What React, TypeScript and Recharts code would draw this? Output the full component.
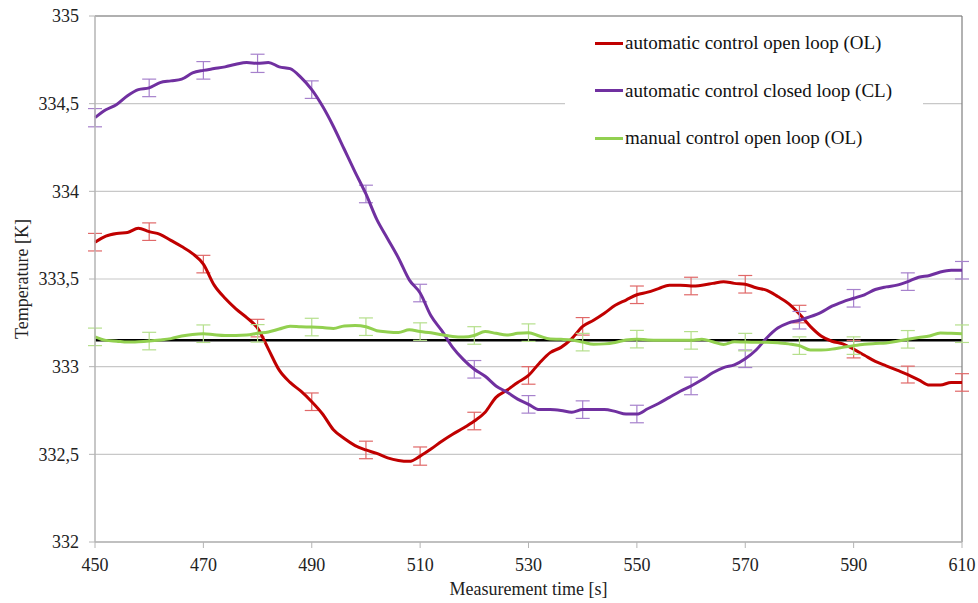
import React from 'react';
import { LineChart, Line, XAxis, YAxis, CartesianGrid, ReferenceLine, ErrorBar, Legend } from 'recharts';

const FONT = '"Liberation Serif", "Times New Roman", serif';

// Measurement time [s], one sample every 2 s
const times = [
  450, 452, 454, 456, 458, 460, 462, 464, 466, 468,
  470, 472, 474, 476, 478, 480, 482, 484, 486, 488,
  490, 492, 494, 496, 498, 500, 502, 504, 506, 508,
  510, 512, 514, 516, 518, 520, 522, 524, 526, 528,
  530, 532, 534, 536, 538, 540, 542, 544, 546, 548,
  550, 552, 554, 556, 558, 560, 562, 564, 566, 568,
  570, 572, 574, 576, 578, 580, 582, 584, 586, 588,
  590, 592, 594, 596, 598, 600, 602, 604, 606, 608,
  610,
];

// automatic control open loop (OL), temperature [K]
const autoOpen = [
  333.71, 333.745, 333.76, 333.765, 333.79, 333.77, 333.755, 333.72, 333.685, 333.645,
  333.585, 333.465, 333.39, 333.33, 333.28, 333.22, 333.1, 332.98, 332.91, 332.86,
  332.8, 332.73, 332.64, 332.59, 332.55, 332.525, 332.505, 332.48, 332.465, 332.46,
  332.49, 332.53, 332.575, 332.615, 332.65, 332.69, 332.74, 332.825, 332.865, 332.91,
  332.95, 333.02, 333.08, 333.11, 333.16, 333.23, 333.265, 333.305, 333.35, 333.38,
  333.41, 333.425, 333.445, 333.465, 333.465, 333.46, 333.465, 333.475, 333.485, 333.475,
  333.47, 333.45, 333.435, 333.4, 333.36, 333.3, 333.23, 333.175, 333.145, 333.13,
  333.1, 333.065, 333.03, 333.005, 332.98, 332.955, 332.925, 332.895, 332.895, 332.91,
  332.91,
];

// automatic control closed loop (CL), temperature [K]
const autoClosed = [
  334.42, 334.465, 334.495, 334.545, 334.58, 334.59, 334.62, 334.63, 334.64, 334.675,
  334.69, 334.7, 334.71, 334.725, 334.735, 334.73, 334.735, 334.71, 334.7, 334.65,
  334.58, 334.485, 334.37, 334.24, 334.11, 333.985, 333.84, 333.73, 333.62, 333.495,
  333.42, 333.29, 333.205, 333.11, 333.04, 332.985, 332.945, 332.89, 332.855, 332.815,
  332.785, 332.755, 332.755, 332.75, 332.74, 332.755, 332.755, 332.755, 332.745, 332.73,
  332.73, 332.76, 332.79, 332.825, 332.86, 332.89, 332.925, 332.965, 332.995, 333.01,
  333.045, 333.095, 333.165, 333.22, 333.25, 333.265, 333.285, 333.31, 333.345, 333.37,
  333.39, 333.41, 333.44, 333.455, 333.465, 333.485, 333.51, 333.52, 333.54, 333.55,
  333.55,
];

// manual control open loop (OL), temperature [K]
const manualOpen = [
  333.17, 333.15, 333.145, 333.14, 333.142, 333.146, 333.152, 333.16, 333.175, 333.184,
  333.188, 333.182, 333.178, 333.178, 333.18, 333.19, 333.198, 333.215, 333.23, 333.227,
  333.226, 333.223, 333.218, 333.232, 333.235, 333.228, 333.205, 333.198, 333.195, 333.21,
  333.2, 333.193, 333.182, 333.172, 333.169, 333.178, 333.2, 333.19, 333.18, 333.19,
  333.194, 333.175, 333.158, 333.156, 333.152, 333.14, 333.128, 333.13, 333.138, 333.152,
  333.157, 333.152, 333.15, 333.15, 333.15, 333.15, 333.157, 333.142, 333.127, 333.142,
  333.14, 333.139, 333.139, 333.137, 333.13, 333.12, 333.095, 333.095, 333.1, 333.11,
  333.12, 333.128, 333.132, 333.135, 333.145, 333.156, 333.166, 333.175, 333.192, 333.19,
  333.188,
];

// Standard deviation at every 10 s
const errTimes = [450, 460, 470, 480, 490, 500, 510, 520, 530, 540, 550, 560, 570, 580, 590, 600, 610];
const autoOpenErr = [0.05, 0.05, 0.05, 0.05, 0.05, 0.05, 0.052, 0.05, 0.05, 0.05, 0.05, 0.05, 0.05, 0.05, 0.05, 0.048, 0.05];
const autoClosedErr = [0.052, 0.05, 0.05, 0.052, 0.05, 0.05, 0.05, 0.05, 0.05, 0.05, 0.05, 0.05, 0.05, 0.05, 0.05, 0.05, 0.05];
const manualOpenErr = [0.05, 0.05, 0.05, 0.05, 0.05, 0.05, 0.05, 0.05, 0.05, 0.05, 0.05, 0.05, 0.05, 0.05, 0.05, 0.05, 0.05];

// Set-point temperature [K]
const setPoint = 333.15;

const xTicks = [450, 470, 490, 510, 530, 550, 570, 590, 610];
const yTicks = [332, 332.5, 333, 333.5, 334, 334.5, 335];

const seriesNames = [
  'automatic control open loop (OL)',
  'automatic control closed loop (CL)',
  'manual control open loop (OL)',
];
const seriesColors = ['#c00000', '#7030a0', '#92d050'];
const errColors = ['#e06868', '#a681cc', '#b5df8c'];

const rows = times.map((t, i) => {
  const k = errTimes.indexOf(t);
  return {
    t,
    autoOpen: autoOpen[i],
    autoClosed: autoClosed[i],
    manualOpen: manualOpen[i],
    autoOpenErr: k >= 0 ? autoOpenErr[k] : undefined,
    autoClosedErr: k >= 0 ? autoClosedErr[k] : undefined,
    manualOpenErr: k >= 0 ? manualOpenErr[k] : undefined,
  };
});

const tickStyle = { fontFamily: FONT, fontSize: 18, fill: '#222' };

const XTitle = (props: any) => {
  const vb = props.viewBox || {};
  return (
    <text x={vb.x + vb.width / 2} y={595} textAnchor="middle" style={tickStyle}>
      Measurement time [s]
    </text>
  );
};

const YTitle = (props: any) => {
  const vb = props.viewBox || {};
  const cy = vb.y + vb.height / 2;
  return (
    <text x={28} y={cy} textAnchor="middle" transform={`rotate(-90 28 ${cy})`} style={tickStyle}>
      Temperature [K]
    </text>
  );
};

const LegendBox = () => (
  <div style={{ fontFamily: FONT, fontSize: 19, color: '#111' }}>
    {seriesNames.map((name, i) => (
      <div key={name} style={{ height: 47.5, display: 'flex', alignItems: 'center', whiteSpace: 'nowrap' }}>
        <span style={{ display: 'inline-block', width: 28, height: 3, background: seriesColors[i], marginLeft: 30, marginRight: 2 }} />
        <span>{name}</span>
      </div>
    ))}
  </div>
);

export default function App() {
  return (
    <div style={{ position: 'absolute', left: 0, top: 0, width: 978, height: 603, background: '#fff' }}>
      <LineChart width={978} height={603} data={rows} margin={{ top: 16, right: 16, bottom: 21, left: 0 }}>
        <CartesianGrid vertical={false} stroke="#c8c8c8" strokeWidth={1.2} />
        <XAxis
          dataKey="t"
          type="number"
          domain={[450, 610]}
          ticks={xTicks}
          height={40}
          tick={tickStyle}
          tickMargin={10}
          tickLine={{ stroke: '#b4b4b4' }}
          axisLine={{ stroke: '#b4b4b4', strokeWidth: 1.5 }}
          label={<XTitle />}
        />
        <YAxis
          type="number"
          domain={[332, 335]}
          ticks={yTicks}
          width={95}
          tick={tickStyle}
          tickMargin={10}
          tickFormatter={(v: number) => String(v).replace('.', ',')}
          tickLine={{ stroke: '#b4b4b4' }}
          axisLine={{ stroke: '#b4b4b4', strokeWidth: 1.5 }}
          label={<YTitle />}
        />
        <ReferenceLine y={335} stroke="#7f7f7f" strokeWidth={1.2} />
        <ReferenceLine x={610} stroke="#7f7f7f" strokeWidth={1.2} />
        <ReferenceLine y={setPoint} stroke="#000" strokeWidth={2.5} />
        <Line type="monotone" dataKey="autoOpen" name={seriesNames[0]} stroke={seriesColors[0]} strokeWidth={3} dot={false} isAnimationActive={false}>
          <ErrorBar dataKey="autoOpenErr" width={7} stroke={errColors[0]} strokeWidth={1.2} isAnimationActive={false} />
        </Line>
        <Line type="monotone" dataKey="autoClosed" name={seriesNames[1]} stroke={seriesColors[1]} strokeWidth={3} dot={false} isAnimationActive={false}>
          <ErrorBar dataKey="autoClosedErr" width={7} stroke={errColors[1]} strokeWidth={1.2} isAnimationActive={false} />
        </Line>
        <Line type="monotone" dataKey="manualOpen" name={seriesNames[2]} stroke={seriesColors[2]} strokeWidth={3} dot={false} isAnimationActive={false}>
          <ErrorBar dataKey="manualOpenErr" width={7} stroke={errColors[2]} strokeWidth={1.2} isAnimationActive={false} />
        </Line>
        <Legend
          layout="vertical"
          align="center"
          verticalAlign="middle"
          content={<LegendBox />}
          wrapperStyle={{ left: 565, top: 19.5, width: 358, height: 160, background: '#fff', margin: 0, padding: 0 }}
        />
      </LineChart>
    </div>
  );
}
